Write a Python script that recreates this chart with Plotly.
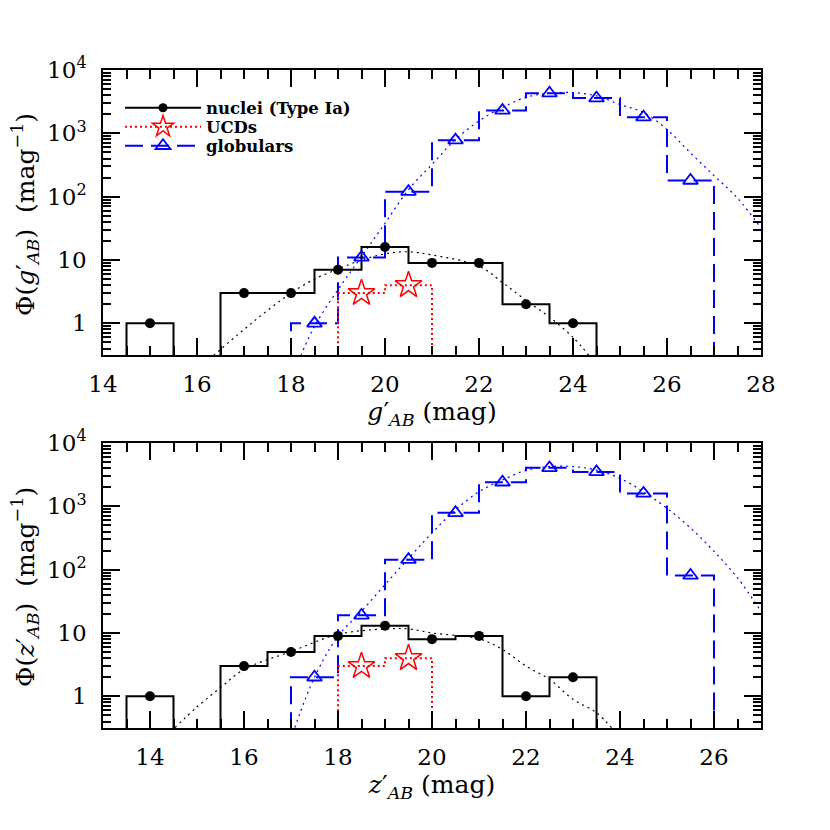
import plotly.graph_objects as go

# ---- g' band (top panel) ----
g_bins = [15, 16, 17, 18, 19, 20, 21, 22, 23, 24]
g_nuclei = [1, 0, 3, 3, 7, 16, 9, 9, 2, 1]
g_ucd_bins = [19.5, 20.5]
g_ucd = [3, 4]
g_gc_bins = [18.5, 19.5, 20.5, 21.5, 22.5, 23.5, 24.5, 25.5, 26.5]
g_gc = [1, 11, 120, 780, 2300, 4300, 3600, 1800, 180]

g_nuc_fit_x = [16.35, 17, 17.5, 18, 18.5, 19, 19.5, 20, 20.5, 21, 22, 22.5, 23, 23.5, 24, 24.34]
g_nuc_fit_y = [0.31, 0.8, 1.6, 3.0, 5.0, 7.2, 10, 12.5, 13.5, 12, 8, 4.4, 2.3, 1.25, 0.6, 0.31]
g_gc_fit_x = [18.21, 18.5, 19, 19.5, 20, 20.5, 21, 21.5, 22, 22.5, 23, 23.5, 24, 24.5, 25, 25.5, 26, 26.5, 27, 27.5, 28]
g_gc_fit_y = [0.31, 0.9, 3.4, 11.3, 38, 129, 323, 800, 1570, 2560, 3700, 4300, 4400, 3900, 2850, 2130, 1150, 490, 215, 95, 32]

# ---- z' band (bottom panel) ----
z_bins = [14, 15, 16, 17, 18, 19, 20, 21, 22, 23]
z_nuclei = [1, 0, 3, 5, 9, 13, 8, 9, 1, 2]
z_ucd_bins = [18.5, 19.5]
z_ucd = [3, 4]
z_gc_bins = [17.5, 18.5, 19.5, 20.5, 21.5, 22.5, 23.5, 24.5, 25.5]
z_gc = [2, 19, 144, 790, 2400, 4050, 3500, 1600, 81]

z_nuc_fit_x = [14.53, 15, 15.5, 16, 17, 18, 19, 19.5, 20, 21, 21.5, 22, 22.5, 23, 23.5, 23.82]
z_nuc_fit_y = [0.32, 0.68, 1.37, 2.66, 5.1, 9.5, 11.6, 11.6, 10, 8.1, 5.5, 3.0, 1.85, 0.9, 0.55, 0.32]
z_gc_fit_x = [17.08, 17.5, 18, 18.5, 19, 19.5, 20, 20.5, 21, 21.5, 22, 22.5, 23, 23.5, 24, 24.5, 25, 25.5, 26, 26.5, 27]
z_gc_fit_y = [0.32, 2.0, 8.9, 22, 58, 150, 380, 880, 1700, 2600, 3700, 4250, 4250, 3730, 2770, 1700, 930, 455, 195, 74, 22]

FLOOR = 1e-3
BLUE = "#0000ff"
RED = "#ff0000"
FONT = "DejaVu Serif"

# the page body adds an 8px margin, so lay out in screen pixels minus that
OFF = 8
W = 830 - OFF


def px(p):
    return (p - OFF) / W


def py(p):
    return 1 - (p - OFF) / W


def step_path(centers, values):
    # histogram outline on unit-width bins, dropping to the floor at both ends
    xs = [centers[0] - 0.5]
    ys = [FLOOR]
    for c, v in zip(centers, values):
        v = v if v > 0 else FLOOR
        xs += [c - 0.5, c + 0.5]
        ys += [v, v]
    xs.append(centers[-1] + 0.5)
    ys.append(FLOOR)
    return xs, ys


def add_panel(fig, xa, ya, bins, nuc, ucd_bins, ucd, gc_bins, gc, nfx, nfy, gfx, gfy):
    common = dict(xaxis=xa, yaxis=ya, showlegend=False)

    fig.add_trace(go.Scatter(x=nfx, y=nfy, mode="lines", line_shape="spline",
                             line=dict(color="black", width=1.2, dash="2px,4px"), **common))
    fig.add_trace(go.Scatter(x=gfx, y=gfy, mode="lines", line_shape="spline",
                             line=dict(color=BLUE, width=1.2, dash="2px,4px"), **common))

    sx, sy = step_path(gc_bins, gc)
    fig.add_trace(go.Scatter(x=sx, y=sy, mode="lines",
                             line=dict(color=BLUE, width=2, dash="18px,8px"), **common))
    sx, sy = step_path(ucd_bins, ucd)
    fig.add_trace(go.Scatter(x=sx, y=sy, mode="lines",
                             line=dict(color=RED, width=2, dash="2px,3px"), **common))
    sx, sy = step_path(bins, nuc)
    fig.add_trace(go.Scatter(x=sx, y=sy, mode="lines",
                             line=dict(color="black", width=2), **common))

    fig.add_trace(go.Scatter(x=gc_bins, y=gc, mode="markers",
                             marker=dict(symbol="triangle-up-open", size=13, color=BLUE,
                                         line=dict(width=1.8, color=BLUE)), **common))
    fig.add_trace(go.Scatter(x=ucd_bins, y=ucd, mode="markers",
                             marker=dict(symbol="star-open", size=20, color=RED,
                                         line=dict(width=1.5, color=RED)), **common))
    nb = [b for b, v in zip(bins, nuc) if v > 0]
    nv = [v for v in nuc if v > 0]
    fig.add_trace(go.Scatter(x=nb, y=nv, mode="markers",
                             marker=dict(symbol="circle", size=10, color="black"), **common))


fig = go.Figure()

add_panel(fig, "x", "y", g_bins, g_nuclei, g_ucd_bins, g_ucd, g_gc_bins, g_gc,
          g_nuc_fit_x, g_nuc_fit_y, g_gc_fit_x, g_gc_fit_y)
add_panel(fig, "x2", "y2", z_bins, z_nuclei, z_ucd_bins, z_ucd, z_gc_bins, z_gc,
          z_nuc_fit_x, z_nuc_fit_y, z_gc_fit_x, z_gc_fit_y)

# legend-only entries, one small legend each so the rows sit close together
fig.add_trace(go.Scatter(x=[None], y=[None], mode="lines+markers", name="nuclei (Type Ia)",
                         legend="legend",
                         line=dict(color="black", width=2),
                         marker=dict(symbol="circle", size=9, color="black")))
fig.add_trace(go.Scatter(x=[None], y=[None], mode="lines+markers", name="UCDs",
                         legend="legend2",
                         line=dict(color=RED, width=2, dash="2px,3px"),
                         marker=dict(symbol="star-open", size=18, color=RED, line=dict(width=1.5, color=RED))))
fig.add_trace(go.Scatter(x=[None], y=[None], mode="lines+markers", name="globulars",
                         legend="legend3",
                         line=dict(color=BLUE, width=2, dash="18px,8px"),
                         marker=dict(symbol="triangle-up-open", size=13, color=BLUE, line=dict(width=1.8, color=BLUE))))

xstyle = dict(
    dtick=2, tick0=0, ticks="inside", ticklen=17, tickwidth=1.5, tickcolor="black",
    minor=dict(dtick=0.5, tick0=0, ticks="inside", ticklen=9, tickwidth=1.5, tickcolor="black"),
    showline=True, linecolor="black", linewidth=1.5, mirror="allticks",
    showgrid=False, zeroline=False, ticklabelstandoff=8, automargin=False,
    tickfont=dict(family=FONT, size=23, color="black"),
    title=dict(standoff=4, font=dict(family=FONT, size=25, color="black")),
)
ystyle = dict(
    type="log", range=[-0.5, 4],
    tickvals=[1, 10, 100, 1000, 10000],
    ticktext=["1", "10", "10<sup>2</sup>", "10<sup>3</sup>", "10<sup>4</sup>"],
    ticks="inside", ticklen=17, tickwidth=1.5, tickcolor="black",
    minor=dict(tickmode="linear", dtick="D1", ticks="inside", ticklen=8, tickwidth=1.5, tickcolor="black"),
    showline=True, linecolor="black", linewidth=1.5, mirror="allticks",
    showgrid=False, zeroline=False, ticklabelstandoff=10, automargin=False,
    tickfont=dict(family=FONT, size=23, color="black"),
)

xdom = [px(103), px(761)]
legfont = dict(family=FONT, size=16.5, color="black", weight="bold")
ytitle_font = dict(family=FONT, size=25, color="black")


def leg(ypix):
    return dict(x=px(120), y=py(ypix), xanchor="left", yanchor="middle",
                bgcolor="rgba(0,0,0,0)", itemwidth=76, font=legfont)


def ytitle(text, ypix):
    return dict(text=text, x=px(25), y=py(ypix), xref="paper", yref="paper",
                xanchor="center", yanchor="middle", textangle=-90,
                showarrow=False, font=ytitle_font)


fig.update_layout(
    width=W, height=W,
    margin=dict(l=0, r=0, t=0, b=0),
    plot_bgcolor="white", paper_bgcolor="white",
    xaxis=dict(xstyle, domain=xdom, range=[14, 28], anchor="y",
               title_text="<i>g</i>′<sub><i>AB</i></sub> (mag)"),
    yaxis=dict(ystyle, domain=[py(355), py(70)], anchor="x"),
    xaxis2=dict(xstyle, domain=xdom, range=[13, 27], anchor="y2",
                title_text="<i>z</i>′<sub><i>AB</i></sub> (mag)"),
    yaxis2=dict(ystyle, domain=[py(728), py(443)], anchor="x2"),
    legend=leg(108),
    legend2=leg(127),
    legend3=leg(146),
    annotations=[
        ytitle("Φ(<i>g</i>′<sub><i>AB</i></sub>)&nbsp;&nbsp;(mag<sup>−1</sup>)", 215),
        ytitle("Φ(<i>z</i>′<sub><i>AB</i></sub>)&nbsp;&nbsp;(mag<sup>−1</sup>)", 587),
    ],
)

fig.write_html("out.html")
